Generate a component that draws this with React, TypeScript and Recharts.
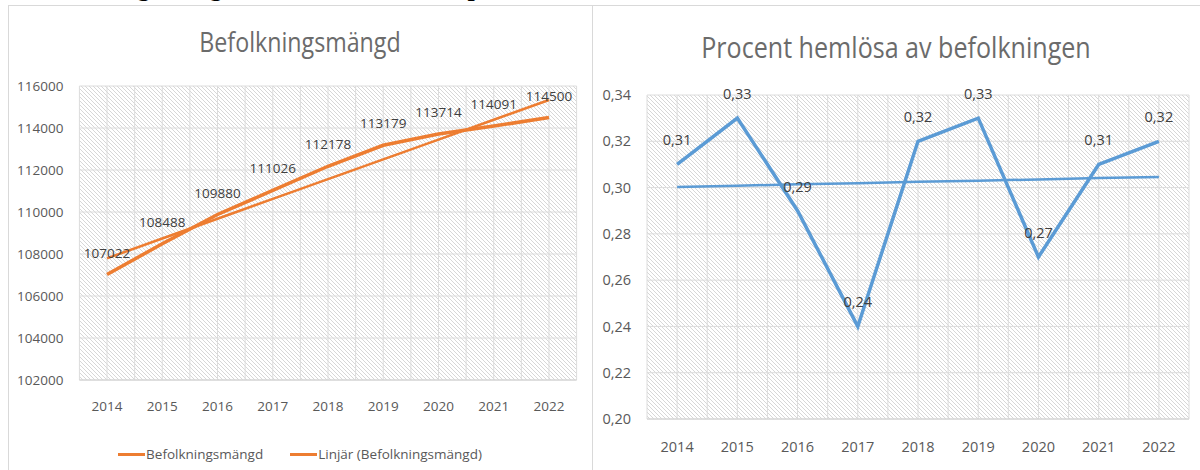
import React from 'react';
import { LineChart, Line, XAxis, YAxis, CartesianGrid, LabelList, Legend } from 'recharts';

const years = ['2014', '2015', '2016', '2017', '2018', '2019', '2020', '2021', '2022'];
const population = [107022, 108488, 109880, 111026, 112178, 113179, 113714, 114091, 114500];
const populationTrend = [107795, 108737, 109680, 110622, 111564, 112507, 113449, 114392, 115334];
const homelessPct = [0.31, 0.33, 0.29, 0.24, 0.32, 0.33, 0.27, 0.31, 0.32];
const homelessTrend = [0.3003, 0.3008, 0.3014, 0.3019, 0.3025, 0.303, 0.3035, 0.3041, 0.3046];
const popTicks = [102000, 104000, 106000, 108000, 110000, 112000, 114000, 116000];
const pctTicks = [0.2, 0.22, 0.24, 0.26, 0.28, 0.3, 0.32, 0.34];

const popData = years.map((year, i) => ({ year, population: population[i], trend: populationTrend[i] }));
const pctData = years.map((year, i) => ({ year, pct: homelessPct[i], trend: homelessTrend[i] }));

const FONT = '"Open Sans", sans-serif';
const ORANGE = '#ED7D31';
const BLUE = '#5B9BD5';
const GRID = '#dcdcdc';
const TEXT = '#595959';

const fmtPct = (v: number) => Number(v).toFixed(2).replace('.', ',');

const halfBandLines = (props: any) => {
  const off = props.offset || {};
  const left = off.left ?? props.xAxis?.x ?? 0;
  const w = off.width ?? props.xAxis?.width ?? 0;
  const n = years.length * 2;
  return Array.from({ length: n + 1 }, (_, i) => left + (i * w) / n);
};

const LegendContent = (props: any) => {
  const payload = props.payload || [];
  return (
    <div style={{ display: 'flex', justifyContent: 'center', alignItems: 'center', fontFamily: FONT, fontSize: 13.5, color: TEXT, lineHeight: '18px' }}>
      {payload.map((p: any, i: number) => (
        <div key={i} style={{ display: 'flex', alignItems: 'center', marginLeft: i ? 27 : 0 }}>
          <div style={{ width: 27, height: 3, background: p.color, marginRight: 1 }} />
          <span>{p.value}</span>
        </div>
      ))}
    </div>
  );
};

export default function App() {
  return (
    <div style={{ position: 'absolute', left: 0, top: 0, width: 1200, height: 470, overflow: 'hidden', background: '#fff' }}>
      <svg width={0} height={0} style={{ position: 'absolute' }}>
        <defs>
          <pattern id="hatch" width={4} height={4} patternUnits="userSpaceOnUse">
            <rect width={4} height={4} fill="#ffffff" />
            <path d="M-1,-1 L5,5 M3,-1 L5,1 M-1,3 L1,5" stroke="#d2d2d2" strokeWidth={0.9} />
          </pattern>
        </defs>
      </svg>
      <div style={{ position: 'absolute', left: 29, top: -25, fontFamily: '"Liberation Serif", serif', fontWeight: 'bold', fontSize: 26, lineHeight: '26px', whiteSpace: 'nowrap', color: '#000' }}>
        Befolkningsmängd och andel hemlösa i procent
      </div>
      {/* borders */}
      <div style={{ position: 'absolute', left: 8, top: 5, width: 1192, height: 1, background: '#d9d9d9' }} />
      <div style={{ position: 'absolute', left: 8, top: 5, width: 1, height: 465, background: '#d9d9d9' }} />
      <div style={{ position: 'absolute', left: 592, top: 5, width: 1, height: 465, background: '#d9d9d9' }} />

      {/* left chart */}
      <div style={{ position: 'absolute', left: 8, top: 5, width: 584, height: 465 }}>
        <div style={{ position: 'absolute', left: 0, top: 19, width: 584, textAlign: 'center', fontFamily: FONT, fontSize: 27, color: '#6b6b6b', lineHeight: '36px', transform: 'scaleX(0.86)' }}>
          Befolkningsmängd
        </div>
        <LineChart width={584} height={465} data={popData} margin={{ top: 81, right: 15.4, left: 0, bottom: 60 }}>
          <CartesianGrid stroke={GRID} strokeWidth={1} fill="url(#hatch)" fillOpacity={1} verticalCoordinatesGenerator={halfBandLines} />
          <XAxis dataKey="year" scale="band" tickLine={false} axisLine={{ stroke: '#d0d0d0' }} tickSize={0} tickMargin={21}
            tick={{ fontFamily: FONT, fontSize: 13.5, fill: TEXT }} interval={0} />
          <YAxis width={71.4} domain={[102000, 116000]} ticks={popTicks} tickLine={false} axisLine={false} tickSize={0} tickMargin={16}
            tick={{ fontFamily: FONT, fontSize: 13.5, fill: TEXT }} interval={0} />
          <Legend verticalAlign="middle" layout="horizontal" wrapperStyle={{ top: 440, left: 0, width: 584 }} content={LegendContent} />
          <Line type="linear" dataKey="population" name="Befolkningsmängd" stroke={ORANGE} strokeWidth={3.5} dot={false} isAnimationActive={false}>
            <LabelList dataKey="population" position="top" offset={17} style={{ fontFamily: FONT, fontSize: 13.5, fill: '#404040' }} />
          </Line>
          <Line type="linear" dataKey="trend" name="Linjär (Befolkningsmängd)" stroke={ORANGE} strokeWidth={2.5} dot={false} isAnimationActive={false} />
        </LineChart>
      </div>

      {/* right chart */}
      <div style={{ position: 'absolute', left: 592, top: 5, width: 608, height: 465 }}>
        <div style={{ position: 'absolute', left: 0, top: 23, width: 608, textAlign: 'center', fontFamily: FONT, fontSize: 28.5, color: '#6b6b6b', lineHeight: '38px', transform: 'scaleX(0.88)' }}>
          Procent hemlösa av befolkningen
        </div>
        <LineChart width={608} height={465} data={pctData} margin={{ top: 90, right: 11, left: 0, bottom: 21 }}>
          <CartesianGrid stroke={GRID} strokeWidth={1} fill="url(#hatch)" fillOpacity={1} verticalCoordinatesGenerator={halfBandLines} />
          <XAxis dataKey="year" scale="band" tickLine={false} axisLine={{ stroke: '#d0d0d0' }} tickSize={0} tickMargin={23}
            tick={{ fontFamily: FONT, fontSize: 14.5, fill: TEXT }} interval={0} />
          <YAxis width={55} domain={[0.2, 0.34]} ticks={pctTicks} tickFormatter={fmtPct} tickLine={false} axisLine={false} tickSize={0} tickMargin={16}
            tick={{ fontFamily: FONT, fontSize: 14.5, fill: TEXT }} interval={0} />
          <Line type="linear" dataKey="pct" name="Procent hemlösa" stroke={BLUE} strokeWidth={3.5} dot={false} isAnimationActive={false}>
            <LabelList dataKey="pct" position="top" offset={19} formatter={fmtPct} style={{ fontFamily: FONT, fontSize: 14.5, fill: '#404040' }} />
          </Line>
          <Line type="linear" dataKey="trend" name="Linjär (Procent hemlösa)" stroke={BLUE} strokeWidth={2.5} dot={false} isAnimationActive={false} />
        </LineChart>
      </div>
    </div>
  );
}
